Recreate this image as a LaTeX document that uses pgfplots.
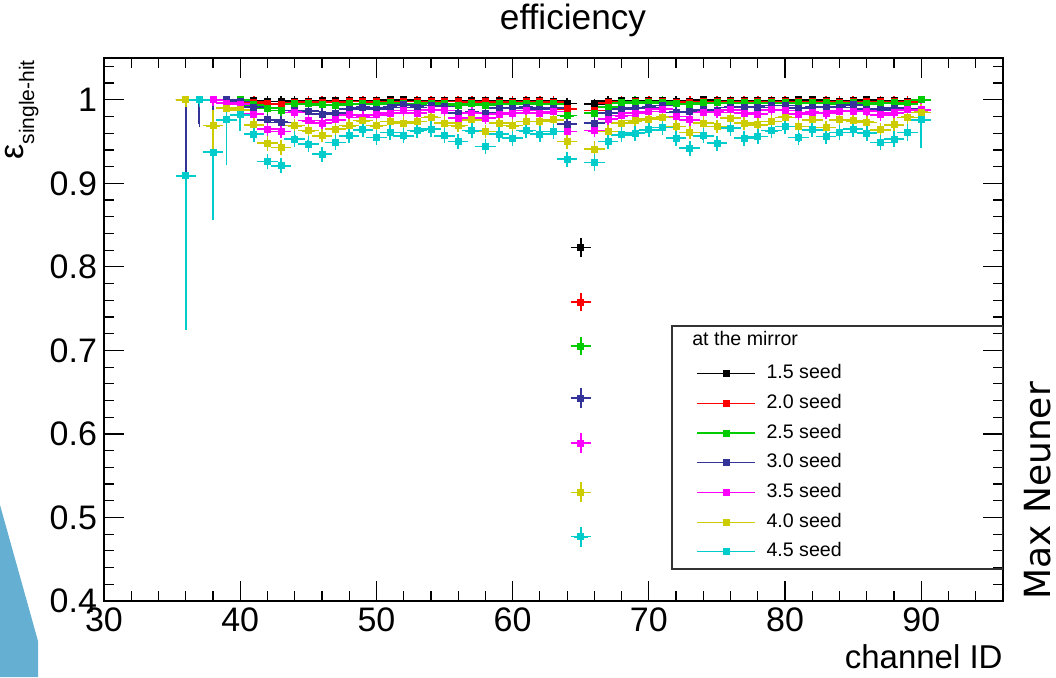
\documentclass[border=0pt]{standalone}
\usepackage{pgfplots}
\pgfplotsset{compat=1.18}
\usepackage{pgfplotstable}
\usepackage{fontspec}
\setmainfont{Liberation Sans}
\newfontfamily\dejavu{DejaVu Sans}

\definecolor{cK}{RGB}{0,0,0}
\definecolor{cR}{RGB}{255,0,0}
\definecolor{cG}{RGB}{0,204,0}
\definecolor{cB}{RGB}{51,51,153}
\definecolor{cM}{RGB}{255,0,255}
\definecolor{cY}{RGB}{204,204,0}
\definecolor{cC}{RGB}{0,204,204}
\definecolor{deco}{RGB}{100,175,210}

% black: 1.5 seed
\pgfplotstableread{
x y ep em
36 1.0 0 0.002
37 1.0 0 0.002
38 1.0 0 0.002
39 1.0 0 0.002
40 1.0 0 0.002
41 0.9992 0.0008 0.002
42 0.998 0.002 0.002
43 0.998 0.002 0.002
44 0.9984 0.0016 0.002
45 0.9984 0.0016 0.002
46 0.9992 0.0008 0.002
47 0.9992 0.0008 0.002
48 0.9992 0.0008 0.002
49 0.9992 0.0008 0.002
50 0.9992 0.0008 0.002
51 1.0 0 0.002
52 1.0 0 0.002
53 0.9992 0.0008 0.002
54 0.9992 0.0008 0.002
55 0.9992 0.0008 0.002
56 0.9992 0.0008 0.002
57 0.9992 0.0008 0.002
58 0.9992 0.0008 0.002
59 0.9992 0.0008 0.002
60 0.9984 0.0016 0.002
61 0.9992 0.0008 0.002
62 0.9992 0.0008 0.002
63 0.9984 0.0016 0.002
64 0.9955 0.002 0.002
65 0.823 0.007 0.007
66 0.9952 0.002 0.002
67 0.9984 0.0016 0.002
68 0.9992 0.0008 0.002
69 0.9992 0.0008 0.002
70 0.9992 0.0008 0.002
71 0.9992 0.0008 0.002
72 0.998 0.002 0.002
73 0.9984 0.0016 0.002
74 1.0 0 0.002
75 0.9992 0.0008 0.002
76 0.9992 0.0008 0.002
77 0.9992 0.0008 0.002
78 0.9992 0.0008 0.002
79 0.9992 0.0008 0.002
80 0.9992 0.0008 0.002
81 1.0 0 0.002
82 1.0 0 0.002
83 0.9992 0.0008 0.002
84 0.9984 0.0016 0.002
85 0.9992 0.0008 0.002
86 1.0 0 0.002
87 0.9992 0.0008 0.002
88 0.9992 0.0008 0.002
89 0.998 0.002 0.002
90 1.0 0 0.004
}\tabK

% red: 2.0 seed
\pgfplotstableread{
x y ep em
36 1.0 0 0.002
37 1.0 0 0.002
38 1.0 0 0.002
39 1.0 0 0.002
40 1.0 0 0.002
41 0.9972 0.0028 0.002
42 0.9952 0.002 0.002
43 0.9944 0.002 0.002
44 0.9964 0.002 0.002
45 0.9972 0.0028 0.002
46 0.9972 0.0028 0.002
47 0.9972 0.0028 0.002
48 0.998 0.002 0.002
49 0.998 0.002 0.002
50 0.9976 0.0024 0.002
51 0.998 0.002 0.002
52 0.998 0.002 0.002
53 0.998 0.002 0.002
54 0.998 0.002 0.002
55 0.998 0.002 0.002
56 0.998 0.002 0.002
57 0.9972 0.0028 0.002
58 0.998 0.002 0.002
59 0.9972 0.0028 0.002
60 0.9972 0.0028 0.002
61 0.998 0.002 0.002
62 0.998 0.002 0.002
63 0.9972 0.0028 0.002
64 0.9892 0.003 0.003
65 0.758 0.007 0.007
66 0.9873 0.003 0.003
67 0.9964 0.002 0.002
68 0.9972 0.0028 0.002
69 0.998 0.002 0.002
70 0.998 0.002 0.002
71 0.998 0.002 0.002
72 0.9964 0.002 0.002
73 0.9972 0.0028 0.002
74 0.998 0.002 0.002
75 0.998 0.002 0.002
76 0.998 0.002 0.002
77 0.998 0.002 0.002
78 0.998 0.002 0.002
79 0.998 0.002 0.002
80 0.998 0.002 0.002
81 0.998 0.002 0.002
82 0.998 0.002 0.002
83 0.998 0.002 0.002
84 0.9972 0.0028 0.002
85 0.998 0.002 0.002
86 0.998 0.002 0.002
87 0.998 0.002 0.002
88 0.998 0.002 0.002
89 0.9972 0.0028 0.002
90 1.0 0 0.004
}\tabR

% green: 2.5 seed
\pgfplotstableread{
x y ep em
36 1.0 0 0.002
37 1.0 0 0.002
38 1.0 0 0.002
39 1.0 0 0.002
40 1.0 0 0.002
41 0.994 0.002 0.002
42 0.990 0.003 0.003
43 0.987 0.003 0.003
44 0.9952 0.002 0.002
45 0.9952 0.002 0.002
46 0.994 0.002 0.002
47 0.9932 0.002 0.002
48 0.9952 0.002 0.002
49 0.9952 0.002 0.002
50 0.9952 0.002 0.002
51 0.9964 0.002 0.002
52 0.9952 0.002 0.002
53 0.9952 0.002 0.002
54 0.996 0.002 0.002
55 0.9952 0.002 0.002
56 0.9932 0.002 0.002
57 0.9952 0.002 0.002
58 0.9932 0.002 0.002
59 0.9952 0.002 0.002
60 0.9952 0.002 0.002
61 0.996 0.002 0.002
62 0.9952 0.002 0.002
63 0.9952 0.002 0.002
64 0.981 0.003 0.003
65 0.705 0.007 0.007
66 0.984 0.003 0.003
67 0.9912 0.002 0.002
68 0.9964 0.002 0.002
69 0.9972 0.0028 0.002
70 0.9964 0.002 0.002
71 0.9972 0.0028 0.002
72 0.9952 0.002 0.002
73 0.9944 0.002 0.002
74 0.9964 0.002 0.002
75 0.9964 0.002 0.002
76 0.9964 0.002 0.002
77 0.9964 0.002 0.002
78 0.9964 0.002 0.002
79 0.9964 0.002 0.002
80 0.9964 0.002 0.002
81 0.9964 0.002 0.002
82 0.9964 0.002 0.002
83 0.9964 0.002 0.002
84 0.9952 0.002 0.002
85 0.9964 0.002 0.002
86 0.9952 0.002 0.002
87 0.996 0.002 0.002
88 0.9964 0.002 0.002
89 0.9952 0.002 0.002
90 1.0 0 0.005
}\tabG

% blue: 3.0 seed
\pgfplotstableread{
x y ep em
36 1.0 0 0.154
37 1.0 0 0.029
38 1.0 0 0.057
39 1.0 0 0.042
40 0.998 0.002 0.008
41 0.9912 0.003 0.003
42 0.976 0.003 0.003
43 0.973 0.003 0.003
44 0.9873 0.003 0.003
45 0.9865 0.003 0.003
46 0.983 0.003 0.003
47 0.984 0.003 0.003
48 0.989 0.003 0.003
49 0.991 0.003 0.003
50 0.989 0.003 0.003
51 0.991 0.003 0.003
52 0.994 0.003 0.003
53 0.991 0.003 0.003
54 0.993 0.003 0.003
55 0.992 0.003 0.003
56 0.984 0.003 0.003
57 0.985 0.003 0.003
58 0.984 0.003 0.003
59 0.990 0.003 0.003
60 0.990 0.003 0.003
61 0.991 0.003 0.003
62 0.989 0.003 0.003
63 0.990 0.003 0.003
64 0.971 0.003 0.003
65 0.643 0.008 0.008
66 0.972 0.003 0.003
67 0.984 0.003 0.003
68 0.989 0.003 0.003
69 0.990 0.003 0.003
70 0.991 0.003 0.003
71 0.993 0.003 0.003
72 0.985 0.003 0.003
73 0.986 0.003 0.003
74 0.988 0.003 0.003
75 0.987 0.003 0.003
76 0.991 0.003 0.003
77 0.991 0.003 0.003
78 0.991 0.003 0.003
79 0.993 0.003 0.003
80 0.993 0.003 0.003
81 0.990 0.003 0.003
82 0.991 0.003 0.003
83 0.991 0.003 0.003
84 0.991 0.003 0.003
85 0.994 0.003 0.003
86 0.989 0.003 0.003
87 0.988 0.003 0.003
88 0.990 0.003 0.003
89 0.989 0.003 0.003
90 0.988 0.011 0.027
}\tabB

% magenta: 3.5 seed
\pgfplotstableread{
x y ep em
36 1.0 0 0.003
37 1.0 0 0.003
38 1.0 0 0.003
39 0.996 0.003 0.004
40 0.995 0.003 0.003
41 0.983 0.003 0.003
42 0.965 0.004 0.004
43 0.962 0.004 0.004
44 0.985 0.003 0.003
45 0.975 0.003 0.003
46 0.972 0.003 0.003
47 0.976 0.003 0.003
48 0.982 0.003 0.003
49 0.979 0.003 0.003
50 0.982 0.003 0.003
51 0.984 0.003 0.003
52 0.987 0.003 0.003
53 0.984 0.003 0.003
54 0.988 0.003 0.003
55 0.987 0.003 0.003
56 0.978 0.003 0.003
57 0.984 0.003 0.003
58 0.978 0.003 0.003
59 0.983 0.003 0.003
60 0.984 0.003 0.003
61 0.987 0.003 0.003
62 0.984 0.003 0.003
63 0.986 0.003 0.003
64 0.962 0.004 0.004
65 0.589 0.008 0.008
66 0.963 0.004 0.004
67 0.977 0.003 0.003
68 0.981 0.003 0.003
69 0.984 0.003 0.003
70 0.986 0.003 0.003
71 0.989 0.003 0.003
72 0.980 0.003 0.003
73 0.976 0.003 0.003
74 0.985 0.003 0.003
75 0.985 0.003 0.003
76 0.988 0.003 0.003
77 0.984 0.003 0.003
78 0.983 0.003 0.003
79 0.988 0.003 0.003
80 0.987 0.003 0.003
81 0.983 0.003 0.003
82 0.985 0.003 0.003
83 0.984 0.003 0.003
84 0.9865 0.003 0.003
85 0.9865 0.003 0.003
86 0.9865 0.003 0.003
87 0.982 0.003 0.003
88 0.9845 0.003 0.003
89 0.988 0.003 0.003
90 0.988 0.005 0.005
}\tabM

% yellow: 4.0 seed
\pgfplotstableread{
x y ep em
36 1.0 0 0.004
37 1.0 0 0.004
38 0.969 0.015 0.069
39 0.990 0.005 0.006
40 0.988 0.004 0.004
41 0.970 0.004 0.004
42 0.948 0.005 0.005
43 0.943 0.005 0.005
44 0.969 0.004 0.004
45 0.963 0.004 0.004
46 0.957 0.004 0.004
47 0.965 0.004 0.004
48 0.969 0.004 0.004
49 0.975 0.004 0.004
50 0.969 0.004 0.004
51 0.974 0.004 0.004
52 0.972 0.004 0.004
53 0.974 0.004 0.004
54 0.979 0.004 0.004
55 0.972 0.004 0.004
56 0.969 0.004 0.004
57 0.976 0.004 0.004
58 0.962 0.004 0.004
59 0.972 0.004 0.004
60 0.969 0.004 0.004
61 0.974 0.004 0.004
62 0.974 0.004 0.004
63 0.976 0.004 0.004
64 0.950 0.005 0.005
65 0.530 0.008 0.008
66 0.941 0.005 0.005
67 0.962 0.004 0.004
68 0.972 0.004 0.004
69 0.975 0.004 0.004
70 0.977 0.004 0.004
71 0.979 0.004 0.004
72 0.968 0.004 0.004
73 0.961 0.004 0.004
74 0.972 0.004 0.004
75 0.968 0.004 0.004
76 0.978 0.004 0.004
77 0.972 0.004 0.004
78 0.970 0.004 0.004
79 0.974 0.004 0.004
80 0.979 0.004 0.004
81 0.968 0.004 0.004
82 0.976 0.004 0.004
83 0.967 0.004 0.004
84 0.976 0.004 0.004
85 0.975 0.004 0.004
86 0.973 0.004 0.004
87 0.964 0.004 0.004
88 0.970 0.004 0.004
89 0.979 0.004 0.004
90 0.985 0.006 0.006
}\tabY

% cyan: 4.5 seed
\pgfplotstableread{
x y ep em
36 0.909 0 0.180
37 1.0 0 0.005
38 0.9375 0 0.077
39 0.976 0.012 0.050
40 0.982 0.006 0.015
41 0.959 0.005 0.005
42 0.926 0.005 0.005
43 0.921 0.005 0.005
44 0.953 0.005 0.005
45 0.947 0.005 0.005
46 0.935 0.005 0.005
47 0.949 0.005 0.005
48 0.957 0.005 0.005
49 0.964 0.005 0.005
50 0.955 0.005 0.005
51 0.961 0.005 0.005
52 0.957 0.005 0.005
53 0.963 0.005 0.005
54 0.965 0.005 0.005
55 0.957 0.005 0.005
56 0.950 0.005 0.005
57 0.963 0.005 0.005
58 0.944 0.005 0.005
59 0.959 0.005 0.005
60 0.954 0.005 0.005
61 0.963 0.005 0.005
62 0.959 0.005 0.005
63 0.962 0.005 0.005
64 0.929 0.005 0.005
65 0.477 0.008 0.008
66 0.925 0.006 0.006
67 0.950 0.005 0.005
68 0.958 0.005 0.005
69 0.960 0.005 0.005
70 0.964 0.005 0.005
71 0.967 0.005 0.005
72 0.954 0.005 0.005
73 0.942 0.005 0.005
74 0.957 0.005 0.005
75 0.948 0.005 0.005
76 0.966 0.005 0.005
77 0.954 0.005 0.005
78 0.956 0.005 0.005
79 0.963 0.005 0.005
80 0.968 0.005 0.005
81 0.955 0.005 0.005
82 0.964 0.005 0.005
83 0.956 0.005 0.005
84 0.961 0.005 0.005
85 0.965 0.005 0.005
86 0.960 0.005 0.005
87 0.949 0.005 0.005
88 0.953 0.005 0.005
89 0.961 0.006 0.006
90 0.976 0.010 0.030
}\tabC

\pgfplotsset{
  eff/.style={
    only marks, mark=square*, mark size=1.5pt, color=#1,
    mark options={solid, fill=#1, draw=#1},
    error bars/.cd,
      x dir=both, x fixed=0.5,
      y dir=both, y explicit,
      error bar style={line width=0.85pt, #1},
      error mark options={line width=0.8pt, mark size=1.7pt, #1},
  },
}

\begin{document}
\begin{tikzpicture}
\useasboundingbox (0,0) rectangle (528pt,338.5pt);
% slide decoration
\fill[deco] (0,0) -- (0,86pt) -- (19pt,18pt) -- (19pt,0) -- cycle;

\begin{axis}[
  at={(52pt,38pt)}, anchor=south west,
  scale only axis, width=449.5pt, height=271.5pt,
  xmin=30, xmax=96, ymin=0.4, ymax=1.05,
  xtick={30,40,...,90},
  minor xtick={32,34,36,38,42,44,46,48,52,54,56,58,62,64,66,68,72,74,76,78,82,84,86,88,92,94},
  ytick={0.4,0.5,0.6,0.7,0.8,0.9,1.0},
  minor ytick={0.42,0.44,0.46,0.48,0.52,0.54,0.56,0.58,0.62,0.64,0.66,0.68,0.72,0.74,0.76,0.78,0.82,0.84,0.86,0.88,0.92,0.94,0.96,0.98,1.02,1.04},
  tick align=inside, tick pos=both,
  xticklabel pos=left, yticklabel pos=left,
  major tick length=10pt, minor tick length=5pt,
  tick style={line width=0.6pt, black},
  axis line style={line width=0.75pt},
  /pgf/number format/assume math mode=true,
  ticklabel style={font=\fontsize{17}{17}\selectfont},
  yticklabel style={/pgf/number format/.cd, fixed},
  legend style={
    at={(axis description cs:0.6585,0.436)}, anchor=north west,
    draw=none, fill=none, inner sep=0pt,
    font=\fontsize{9.8}{11}\selectfont,
    row sep=5.85pt,
    nodes={inner sep=0pt, text height=7pt, text depth=2pt},
    /tikz/every odd column/.append style={column sep=5.5pt},
  },
  legend cell align=left,
  legend image code/.code={
    \draw[#1, line width=0.6pt] (0pt,0pt) -- (29pt,0pt);
    \draw[#1] plot coordinates {(14.5pt,0pt)};
  },
]
\addplot[eff=cK] table[x=x, y=y, y error plus=ep, y error minus=em] {\tabK};
\addlegendentry{1.5 seed}
\addplot[eff=cR] table[x=x, y=y, y error plus=ep, y error minus=em] {\tabR};
\addlegendentry{2.0 seed}
\addplot[eff=cG] table[x=x, y=y, y error plus=ep, y error minus=em] {\tabG};
\addlegendentry{2.5 seed}
\addplot[eff=cB] table[x=x, y=y, y error plus=ep, y error minus=em] {\tabB};
\addlegendentry{3.0 seed}
\addplot[eff=cM] table[x=x, y=y, y error plus=ep, y error minus=em] {\tabM};
\addlegendentry{3.5 seed}
\addplot[eff=cY] table[x=x, y=y, y error plus=ep, y error minus=em] {\tabY};
\addlegendentry{4.0 seed}
\addplot[eff=cC] table[x=x, y=y, y error plus=ep, y error minus=em] {\tabC};
\addlegendentry{4.5 seed}

\draw[line width=0.75pt, black!80] (axis description cs:0.6318,0.0589) rectangle (axis description cs:1,0.5064);
\node[anchor=base west, inner sep=0pt, font=\fontsize{9.8}{11}\selectfont] at (axis description cs:0.654,0.4705) {at the mirror};
\end{axis}

% title
\node[anchor=base, inner sep=0pt, font=\fontsize{17.6}{18}\selectfont] at (286.5pt,323.5pt) {efficiency};
% x label
\node[anchor=base east, inner sep=0pt, font=\fontsize{16.5}{17}\selectfont] at (501.5pt,4.5pt) {channel ID};
% y label
\node[rotate=90, anchor=base east, inner sep=0pt] at (12pt,308.5pt) {\fontsize{17}{17}\selectfont ε\raisebox{-5pt}{\fontsize{10.5}{11}\selectfont single-hit}};
% author
\node[rotate=90, anchor=base west, inner sep=0pt, font=\dejavu\fontsize{18}{18}\selectfont] at (525pt,38.5pt) {Max Neuner};
\end{tikzpicture}
\end{document}
